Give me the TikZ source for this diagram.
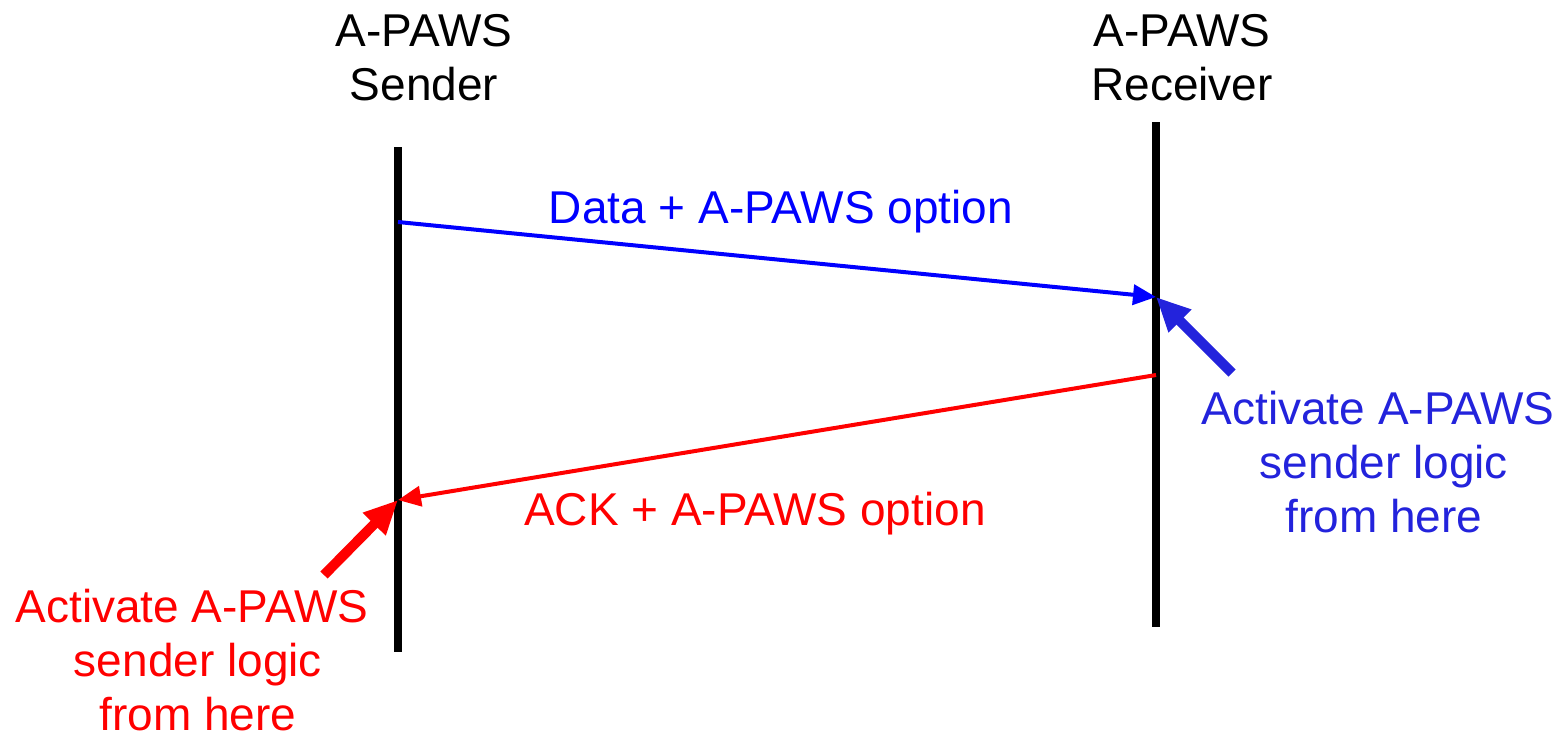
\documentclass[tikz,border=0pt]{standalone}
\usepackage{fontspec}
\setmainfont{Liberation Sans}
\usetikzlibrary{arrows.meta}
\definecolor{msgblue}{RGB}{0,0,255}
\definecolor{noteblue}{RGB}{35,35,220}
\definecolor{msgred}{RGB}{255,0,0}
\tikzset{
  lbl/.style={font=\fontsize{23}{26.8}\selectfont, align=center, inner sep=0pt},
  lifeline/.style={line width=4pt, black},
  msg/.style={line width=2pt, -{Triangle[length=11.5pt,width=10pt]}},
  pointer/.style={line width=5pt, -{Triangle[length=17pt,width=15pt]}},
}
% lines two and three of the notes sit slightly right of the first
\newcommand{\noteindent}{\hspace*{6pt}}
\begin{document}
\begin{tikzpicture}[x=0.5pt,y=-0.5pt]
  \useasboundingbox (0,0) rectangle (1564,740);

  % lifeline ends
  \coordinate (sTop) at (398,147);
  \coordinate (sBot) at (398,652);
  \coordinate (rTop) at (1156,122);
  \coordinate (rBot) at (1156,627);

  % message anchor points on the lifelines
  \coordinate (dataOut) at (398,222);
  \coordinate (dataIn)  at (1156,297);
  \coordinate (ackOut)  at (1156,375);
  \coordinate (ackIn)   at (398,500);

  % tails of the pointer arrows
  \coordinate (rPtr) at (1232,373);
  \coordinate (sPtr) at (324,575);

  % headers (anchored on the baseline of the last line)
  \node[lbl, anchor=base] (hS) at (424,100) {A-PAWS\\Sender};
  \node[lbl, anchor=base] (hR) at (1182,100) {A-PAWS\\Receiver};

  % lifelines
  \draw[lifeline] (sTop) -- (sBot);
  \draw[lifeline] (rTop) -- (rBot);

  % messages
  \draw[msg, msgblue] (dataOut) -- (dataIn);
  \draw[msg, msgred] (ackOut) -- (ackIn);
  \node[lbl, anchor=base, text=msgblue] (dataLbl) at (781,223) {Data + A-PAWS option};
  \node[lbl, anchor=base, text=msgred] (ackLbl) at (755,525) {ACK + A-PAWS option};

  % pointers to where the sender logic starts
  \draw[pointer, noteblue] (rPtr) -- (dataIn);
  \draw[pointer, msgred] (sPtr) -- (ackIn);
  \node[lbl, anchor=base, text=noteblue] (noteR) at (1378,532)
    {Activate A-PAWS\\\noteindent sender logic\\\noteindent from here};
  \node[lbl, anchor=base, text=msgred] (noteS) at (192,730)
    {Activate A-PAWS\\\noteindent sender logic\\\noteindent from here};
\end{tikzpicture}
\end{document}
